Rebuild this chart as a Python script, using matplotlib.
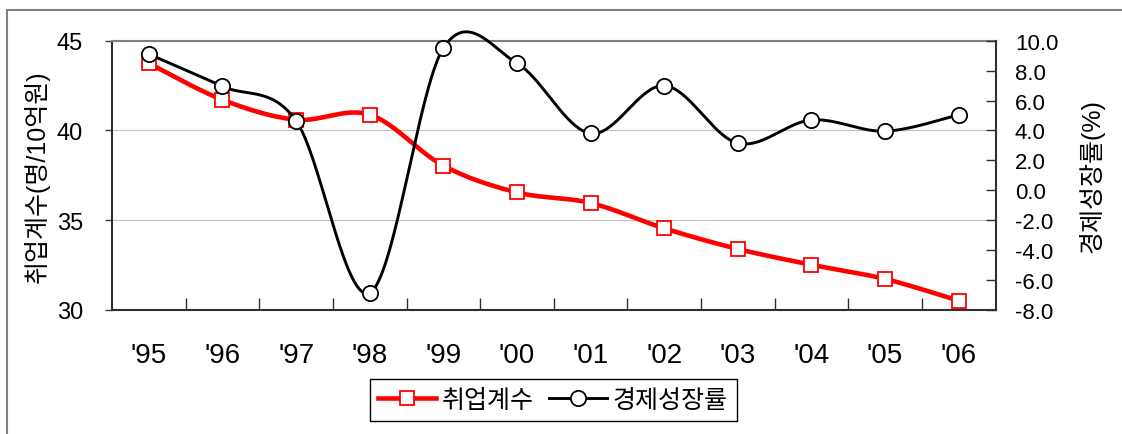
import numpy as np
import matplotlib.pyplot as plt
from matplotlib.patches import Rectangle
from matplotlib.lines import Line2D

plt.rcParams['font.family'] = ['Liberation Sans', 'Noto Sans CJK KR', 'DejaVu Sans']
plt.rcParams['axes.unicode_minus'] = False

#### DATA
years = ["'95", "'96", "'97", "'98", "'99", "'00", "'01", "'02", "'03", "'04", "'05", "'06"]
employ_coef = [43.74, 41.71, 40.6, 40.88, 38.04, 36.55, 35.96, 34.55, 33.4, 32.52, 31.73, 30.52]
gdp_growth = [9.1, 6.95, 4.65, -6.85, 9.5, 8.5, 3.8, 7.0, 3.15, 4.7, 3.95, 5.05]

left_ticks = [30, 35, 40, 45]
right_ticks = [-8, -6, -4, -2, 0, 2, 4, 6, 8, 10]

W, H = 1122, 435


def smooth(y, n=40):
    # catmull-rom style smoothing like excel "smoothed line"
    y = np.asarray(y, dtype=float)
    x = np.arange(len(y), dtype=float)
    p = np.concatenate([[y[0]], y, [y[-1]]])
    px = np.concatenate([[x[0]], x, [x[-1]]])
    xs, ys = [], []
    t = np.linspace(0, 1, n)
    for i in range(len(y) - 1):
        p0, p1, p2, p3 = p[i], p[i + 1], p[i + 2], p[i + 3]
        q0, q1, q2, q3 = px[i], px[i + 1], px[i + 2], px[i + 3]
        h1 = 2 * t**3 - 3 * t**2 + 1
        h2 = t**3 - 2 * t**2 + t
        h3 = -2 * t**3 + 3 * t**2
        h4 = t**3 - t**2
        ys.append(h1 * p1 + h2 * (p2 - p0) / 2 + h3 * p2 + h4 * (p3 - p1) / 2)
        xs.append(h1 * q1 + h2 * (q2 - q0) / 2 + h3 * q2 + h4 * (q3 - q1) / 2)
    return np.concatenate(xs), np.concatenate(ys)


fig = plt.figure(figsize=(W / 100, H / 100), dpi=100)
ax = fig.add_axes([112 / W, 1 - 311 / H, (995.5 - 112) / W, (311 - 41.7) / H])
ax2 = ax.twinx()

# outer chart border
fig.patches.append(Rectangle((7 / W, -0.1), 2, 1 - 11 / H + 0.1, transform=fig.transFigure,
                             fill=False, edgecolor='#808080', linewidth=1.5))

idx = np.arange(len(years))

#### LEFT AXIS: employment coefficient
sx, sy = smooth(employ_coef)
ax.plot(sx, sy, color='#ff0000', lw=3.3, solid_capstyle='round', zorder=3)
ax.plot(idx, employ_coef, 's', ms=10, mfc='white', mec='#ff0000', mew=1.3, zorder=4)
ax.set_ylim(30, 45)
ax.set_yticks(left_ticks)
ax.set_xlim(-0.5, len(years) - 0.5)
ax.set_xticks(idx)
ax.set_xticklabels(years, fontsize=20)
ax.set_xticks(idx[:-1] + 0.5, minor=True)
ax.tick_params(axis='x', which='major', length=0, pad=23)
ax.tick_params(axis='x', which='minor', direction='in', length=9, width=1, color='#303030')
ax.tick_params(axis='y', direction='out', length=5, width=1, labelsize=17, pad=16, color='#404040')
ax.yaxis.grid(True, color='#c0c0c0', lw=0.8)
ax.set_axisbelow(True)
for s in ['left', 'bottom']:
    ax.spines[s].set_color('#303030')
    ax.spines[s].set_linewidth(1.5)
ax.spines['top'].set_color('#808080')
ax.spines['top'].set_linewidth(1.5)
ax.spines['right'].set_visible(False)

#### RIGHT AXIS: economic growth
gx, gy = smooth(gdp_growth)
ax2.plot(gx, gy, color='black', lw=2.1, zorder=3, clip_on=False)
ax2.plot(idx, gdp_growth, 'o', ms=11, mfc='white', mec='black', mew=1.3, zorder=4, clip_on=False)
ax2.set_ylim(-8, 10)
ax2.set_yticks(right_ticks)
ax2.set_yticklabels(['%.1f' % v for v in right_ticks])
ax2.tick_params(axis='y', direction='in', length=7, width=1, labelsize=16, pad=14, color='#303030')
for s in ['left', 'top', 'bottom']:
    ax2.spines[s].set_visible(False)
ax2.spines['right'].set_color('#303030')
ax2.spines['right'].set_linewidth(1.5)

# axis titles
fig.text(36.5 / W, 1 - 177 / H, '취업계수(명/10억원)', rotation=90, ha='center', va='center', fontsize=18)
fig.text(1091 / W, 1 - 176 / H, '경제성장률(%)', rotation=90, ha='center', va='center', fontsize=18)

#### LEGEND
handles = [Line2D([], [], color='#ff0000', lw=3.3, marker='s', ms=10, mfc='white', mec='#ff0000', mew=1.3),
           Line2D([], [], color='black', lw=2.1, marker='o', ms=11, mfc='white', mec='black', mew=1.3)]
leg = fig.legend(handles, ['취업계수', '경제성장률'], loc='center', bbox_to_anchor=(553 / W, 1 - 401 / H),
                 ncol=2, fontsize=18, frameon=True, fancybox=False, framealpha=1, edgecolor='black',
                 handlelength=2.3, handletextpad=0.25, columnspacing=0.6, borderpad=0.35,
                 borderaxespad=0)
leg.get_frame().set_linewidth(1.0)

fig.savefig('out.png', dpi=100)
